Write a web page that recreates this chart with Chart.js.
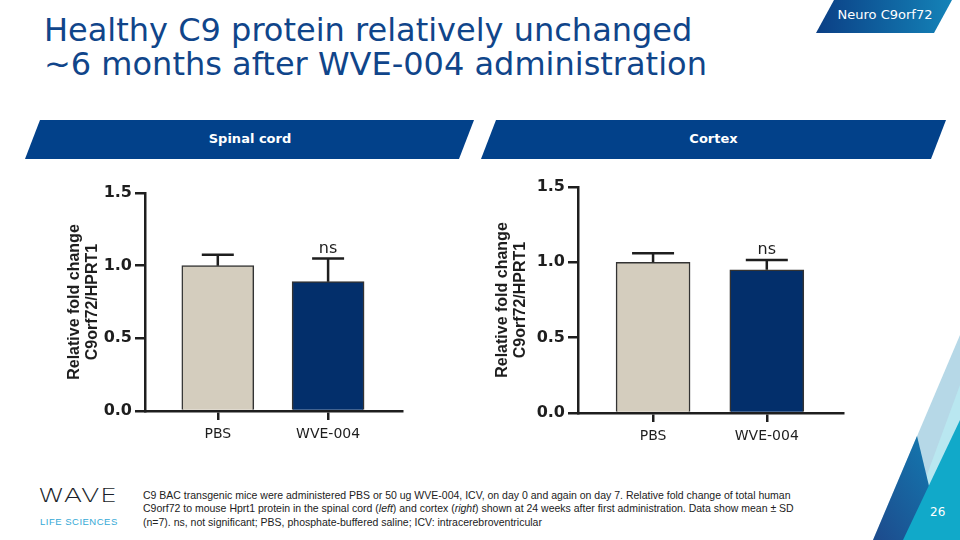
<!DOCTYPE html>
<html>
<head>
<meta charset="utf-8">
<script src="https://cdn.jsdelivr.net/npm/chart.js@4.4.1/dist/chart.umd.min.js"></script>
<style>
  html, body { margin: 0; padding: 0; background: #fff; }
  #slide { position: relative; width: 960px; height: 540px; overflow: hidden; font-family: "DejaVu Sans", Verdana, sans-serif; }
  .abs { position: absolute; }
  #title { left: 44px; top: 13px; font-size: 32px; line-height: 34px; color: #10458a; white-space: nowrap; }
  .hdr { color: #fff; font-weight: bold; font-size: 13px; text-align: center; top: 131px; }
  #foot { left: 143px; top: 489px; font-family: "Liberation Sans", Arial, sans-serif; font-size: 10.5px; line-height: 13.3px; color: #222; white-space: nowrap; }
</style>
</head>
<body>
<div id="slide">
  <svg class="abs" style="left:0;top:0" width="960" height="540">
    <defs>
      <linearGradient id="tag" x1="0" y1="0" x2="1" y2="0">
        <stop offset="0" stop-color="#0b3f85"/>
        <stop offset="1" stop-color="#1483b8"/>
      </linearGradient>
      <linearGradient id="dark" x1="0" y1="1" x2="1" y2="0">
        <stop offset="0" stop-color="#1d4a8c"/>
        <stop offset="1" stop-color="#137db3"/>
      </linearGradient>
    </defs>
    <polygon points="834,0 952,0 934,33 816,33" fill="url(#tag)"/>
    <polygon points="40,120 474,120 459,159 25,159" fill="#02418a"/>
    <polygon points="496,120 946,120 931,159 481,159" fill="#02418a"/>
    <polygon points="960,335 873,540 960,540" fill="#b6d8e7"/>
    <polygon points="960,385 903,540 960,540" fill="#b9e7f0"/>
    <polygon points="917,436 873,540 942,540" fill="url(#dark)"/>
    <polygon points="960,420 903,540 960,540" fill="#11a9c9"/>
  </svg>
  <div class="abs" style="left:826px;top:7px;width:118px;text-align:center;color:#fff;font-size:13px;">Neuro C9orf72</div>
  <div id="title" class="abs">Healthy C9 protein relatively unchanged<br>~6 months after WVE-004 administration</div>
  <div class="abs hdr" style="left:25px;width:450px;">Spinal cord</div>
  <div class="abs hdr" style="left:481px;width:465px;">Cortex</div>

  <div class="abs" style="left:50px;top:170px;width:370px;height:280px;"><canvas id="spinal"></canvas></div>
  <div class="abs" style="left:480px;top:170px;width:380px;height:280px;"><canvas id="cortex"></canvas></div>

  <div class="abs" style="left:38px;top:484px;font-size:27px;letter-spacing:0.5px;color:#1b1f2b;font-family:'DejaVu Sans';font-weight:300;transform:scaleY(0.7);transform-origin:top left;">WAVE</div>
  <div class="abs" style="left:40px;top:516px;font-size:9.5px;letter-spacing:0.5px;color:#35a9d6;font-family:'Liberation Sans',Arial;">LIFE SCIENCES</div>
  <div id="foot" class="abs">C9 BAC transgenic mice were administered PBS or 50 ug WVE-004, ICV, on day 0 and again on day 7. Relative fold change of total human<br>C9orf72 to mouse Hprt1 protein in the spinal cord (<i>left</i>) and cortex (<i>right</i>) shown at 24 weeks after first administration. Data show mean ± SD<br>(n=7). ns, not significant; PBS, phosphate-buffered saline; ICV: intracerebroventricular</div>
  <div class="abs" style="left:930px;top:505px;font-size:12px;color:#fff;">26</div>
</div>

<script>
// data
const categories = ['PBS', 'WVE-004'];
const spinalMean = [1.00, 0.89];
const spinalSD = [0.075, 0.16];
const cortexMean = [1.00, 0.95];
const cortexSD = [0.06, 0.065];
const sigLabels = ['', 'ns'];
const yTicks = [0, 0.5, 1.0, 1.5];
const yTitle = ['Relative fold change', 'C9orf72/HPRT1'];

const barColors = ['#d4cdbe', '#032f6b'];
const ink = '#1e1e1e';

// draws mean+SD whiskers and the significance label above each bar
const errorBars = {
    id: 'errorBars',
    afterDatasetsDraw(chart, args, opts) {
        const ctx = chart.ctx;
        const y = chart.scales.y;
        const ds = chart.data.datasets[0];
        const meta = chart.getDatasetMeta(0);
        ctx.save();
        ctx.strokeStyle = ink;
        ctx.lineWidth = 2.5;
        meta.data.forEach(function (bar, i) {
            const top = y.getPixelForValue(ds.data[i].y + ds.sd[i]);
            const half = opts.cap / 2;
            ctx.beginPath();
            ctx.moveTo(bar.x, bar.y);
            ctx.lineTo(bar.x, top);
            ctx.moveTo(bar.x - half, top);
            ctx.lineTo(bar.x + half, top);
            ctx.stroke();
            if (ds.sig[i]) {
                ctx.fillStyle = ink;
                ctx.font = '16px "DejaVu Sans"';
                ctx.textAlign = 'center';
                ctx.textBaseline = 'bottom';
                ctx.fillText(ds.sig[i], bar.x, top - 2);
            }
        });
        ctx.restore();
    }
};

function makeChart(id, means, sds, cfg) {
    const ctx = document.getElementById(id).getContext('2d');
    return new Chart(ctx, {
        type: 'bar',
        data: {
            datasets: [{
                data: categories.map(function (c, i) { return {x: i, y: means[i]}; }),
                sd: sds,
                sig: sigLabels,
                backgroundColor: barColors,
                borderColor: '#333',
                borderWidth: 1.5,
                barThickness: cfg.barWidth
            }]
        },
        options: {
            animation: false,
            responsive: true,
            maintainAspectRatio: false,
            layout: {padding: cfg.padding},
            plugins: {
                legend: {display: false},
                tooltip: {enabled: false},
                errorBars: {cap: cfg.cap}
            },
            scales: {
                x: {
                    type: 'linear',
                    min: -0.66,
                    max: 1.67,
                    offset: false,
                    afterBuildTicks: function (scale) {
                        scale.ticks = categories.map(function (c, i) { return {value: i}; });
                    },
                    afterFit: function (scale) { scale.height = cfg.xHeight; },
                    ticks: {
                        callback: function (v) { return categories[v]; },
                        color: ink,
                        font: {family: 'DejaVu Sans', size: 14},
                        padding: 6,
                        maxRotation: 0,
                        autoSkip: false
                    },
                    grid: {offset: false, drawOnChartArea: false, drawTicks: true, tickLength: 9, color: ink, lineWidth: 2.5},
                    border: {display: true, color: ink, width: 2.5}
                },
                y: {
                    min: 0,
                    max: 1.5,
                    afterBuildTicks: function (scale) {
                        scale.ticks = yTicks.map(function (v) { return {value: v}; });
                    },
                    afterFit: function (scale) { scale.width = cfg.yWidth; },
                    ticks: {
                        callback: function (v) { return v.toFixed(1); },
                        color: ink,
                        font: {family: 'DejaVu Sans', size: 16, weight: 'bold'},
                        padding: 3
                    },
                    grid: {drawOnChartArea: false, drawTicks: true, tickLength: 10, color: ink, lineWidth: 2.5},
                    border: {display: true, color: ink, width: 2.5},
                    title: {
                        display: true,
                        text: yTitle,
                        color: ink,
                        font: {family: 'Liberation Sans', size: 16, weight: 'bold', lineHeight: 1.1},
                        padding: {top: cfg.titlePad, bottom: 0}
                    }
                }
            }
        },
        plugins: [errorBars]
    });
}

makeChart('spinal', spinalMean, spinalSD, {
    barWidth: 72, cap: 32, xHeight: 39, yWidth: 95, titlePad: 16,
    padding: {top: 23, right: 18, bottom: 0, left: 0}
});
makeChart('cortex', cortexMean, cortexSD, {
    barWidth: 74, cap: 42, xHeight: 37, yWidth: 98, titlePad: 14,
    padding: {top: 17, right: 17, bottom: 0, left: 0}
});
</script>
</body>
</html>
